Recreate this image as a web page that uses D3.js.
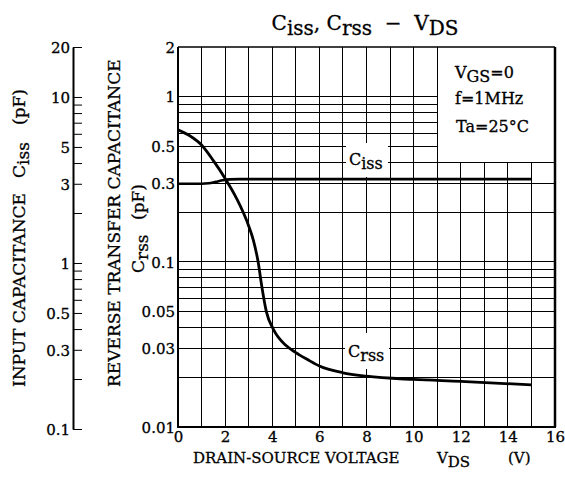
<!DOCTYPE html>
<html><head><meta charset="utf-8">
<script src="https://cdn.jsdelivr.net/npm/d3@7"></script>
<style>
html,body{margin:0;padding:0;background:#fff;}
svg{display:block;}
text{font-family:"DejaVu Serif",serif;fill:#000;white-space:pre;stroke:#000;stroke-width:0.3px;}
</style></head><body>
<svg id="chart" width="565" height="494"></svg>
<script>
// ---- data ----
const vdsTicks = [0,2,4,6,8,10,12,14,16];
const vdsGrid = [1,2,3,4,5,6,7,8,9,10,11,12,13,14,15];
const crssTickLabels = [0.01,0.03,0.05,0.1,0.3,0.5,1,2];
const crssGrid = [0.02,0.03,0.04,0.05,0.06,0.07,0.08,0.09,0.1,0.2,0.3,0.4,0.5,0.6,0.7,0.8,0.9,1];
const cissTickLabels = [0.1,0.3,0.5,1,3,5,10,20];
const cissTicks = [0.1,0.2,0.3,0.4,0.5,0.6,0.7,0.8,0.9,1,2,3,4,5,6,7,8,9,10,20];
const cissV  = [0,0.5,1.0,1.3,1.6,1.9,2.2,2.6,3,4,6,8,10,12,15];
const cissPF = [3.0,3.0,3.0,3.02,3.08,3.15,3.19,3.2,3.2,3.2,3.2,3.2,3.2,3.2,3.2];
const crssV  = [0,0.5,1,1.5,2,2.5,3,3.2,3.4,3.55,3.75,4.05,4.6,5.0,5.5,6,7,8,10,12,15];
const crssPF = [0.63,0.58,0.51,0.41,0.32,0.24,0.165,0.135,0.1,0.072,0.05,0.039,0.031,0.0282,0.0256,0.0234,0.0213,0.0203,0.0194,0.0189,0.018];
const legendSplitV = 11, legendSplitC = 0.4;

// ---- scales ----
const svg = d3.select("#chart");
const x = d3.scaleLinear().domain([0,16]).range([178,555]);
const y = d3.scaleLog().domain([0.01,2]).range([427,47]);
const yC = d3.scaleLog().domain([0.1,20]).range([429,47]);
const X0 = x(0), X1 = x(16), Y0 = y(0.01), Y1 = y(2);

// ---- grid ----
const grid = svg.append("g").attr("stroke","#000").attr("stroke-width",1).attr("shape-rendering","crispEdges");
grid.selectAll("line.v").data(vdsGrid).join("line").attr("class","v")
  .attr("x1",d=>x(d)).attr("x2",d=>x(d))
  .attr("y1",Y0).attr("y2",d=> d>legendSplitV ? y(legendSplitC) : Y1);
grid.selectAll("line.h").data(crssGrid).join("line").attr("class","h")
  .attr("y1",d=>y(d)).attr("y2",d=>y(d))
  .attr("x1",X0).attr("x2",d=> d>legendSplitC ? x(legendSplitV) : X1);

// ---- label backgrounds ----
svg.append("rect").attr("x",346).attr("y",143).attr("width",42).attr("height",34).attr("fill","#fff");
svg.append("rect").attr("x",345).attr("y",333).attr("width",44).attr("height",36).attr("fill","#fff");

// ---- frame ----
svg.append("line").attr("x1",X0).attr("x2",X1).attr("y1",Y1).attr("y2",Y1).attr("stroke","#000").attr("stroke-width",1.5);
svg.append("line").attr("x1",X0).attr("x2",X0).attr("y1",Y1).attr("y2",Y0).attr("stroke","#000").attr("stroke-width",2);
svg.append("line").attr("x1",X0-1).attr("x2",X1+1).attr("y1",Y0).attr("y2",Y0).attr("stroke","#000").attr("stroke-width",2);
svg.append("line").attr("x1",X1).attr("x2",X1).attr("y1",Y1).attr("y2",Y0).attr("stroke","#000").attr("stroke-width",2.5);

// ---- axes labels ----
const yAx = svg.append("g").attr("transform",`translate(${X0-1},0)`)
  .call(d3.axisLeft(y).tickValues(crssTickLabels).tickFormat(d=>String(d)).tickSize(0).tickPadding(2));
yAx.select(".domain").remove();
yAx.selectAll("text").attr("font-size",15).attr("font-family","DejaVu Serif").attr("dy","0.35em");

const xAx = svg.append("g").attr("transform",`translate(0,${Y0})`)
  .call(d3.axisBottom(x).tickValues(vdsTicks).tickFormat(d=>String(d)).tickSize(0).tickPadding(4));
xAx.select(".domain").remove();
xAx.selectAll("text").attr("font-size",15).attr("font-family","DejaVu Serif");

// Ciss axis
const cAx = svg.append("g").attr("transform","translate(73,0)")
  .call(d3.axisRight(yC).tickValues(cissTicks).tickFormat("").tickSize(9).tickSizeOuter(0));
cAx.selectAll("line").attr("stroke","#000").attr("stroke-width",1);
cAx.select(".domain").attr("stroke","#000").attr("stroke-width",2);
const cLab = svg.append("g").attr("transform","translate(72,0)")
  .call(d3.axisLeft(yC).tickValues(cissTickLabels).tickFormat(d=>String(d)).tickSize(0).tickPadding(2));
cLab.select(".domain").remove();
cLab.selectAll("text").attr("font-size",15).attr("font-family","DejaVu Serif").attr("dy","0.35em");

// ---- curves ----
const line = (sy)=> d3.line().x(d=>x(d[0])).y(d=>sy(d[1])).curve(d3.curveMonotoneX);
svg.append("path").datum(cissV.map((v,i)=>[v,cissPF[i]]))
  .attr("d",line(yC)).attr("fill","none").attr("stroke","#000").attr("stroke-width",2.6);
svg.append("path").datum(crssV.map((v,i)=>[v,crssPF[i]]))
  .attr("d",line(y)).attr("fill","none").attr("stroke","#000").attr("stroke-width",2.8);

// ---- texts ----
function sub(t, parts, dy){
  let cur = 0;
  parts.forEach(([s,isSub])=>{
    const want = isSub ? dy : 0;
    t.append("tspan").attr("dy", want-cur).text(s);
    cur = want;
  });
  return t;
}
// title
sub(svg.append("text").attr("x",365).attr("y",30).attr("text-anchor","middle").attr("font-size",20),
  [["C",0],["iss",1],[", C",0],["rss",1],["  −  V",0],["DS",1]], 5);

// legend
sub(svg.append("text").attr("x",455).attr("y",78).attr("font-size",16),[["V",0],["GS",1],["=0",0]],4);
svg.append("text").attr("x",455).attr("y",104).attr("font-size",16).text("f=1MHz");
svg.append("text").attr("x",456).attr("y",132).attr("font-size",16).text("Ta=25°C");

// curve labels
sub(svg.append("text").attr("x",349).attr("y",165).attr("font-size",16),[["C",0],["iss",1]],4);
sub(svg.append("text").attr("x",348).attr("y",357).attr("font-size",16),[["C",0],["rss",1]],4);

// x title
const xt = svg.append("text").attr("y",463).attr("font-size",15);
xt.append("tspan").attr("x",193).text("DRAIN-SOURCE VOLTAGE");
xt.append("tspan").attr("x",437).text("V");
xt.append("tspan").attr("dy",4).text("DS");
xt.append("tspan").attr("x",508).attr("dy",-4).text("(V)");

// left y title
const rl = svg.append("g").attr("transform","rotate(-90)");
rl.append("text").attr("x",-387).attr("y",25).attr("font-size",17).text("INPUT CAPACITANCE");
sub(rl.append("text").attr("x",-178).attr("y",25).attr("font-size",17),[["C",0],["iss",1]],4);
rl.append("text").attr("x",-125).attr("y",25).attr("font-size",17).text("(pF)");
// middle y title
rl.append("text").attr("x",-387).attr("y",120).attr("font-size",17).text("REVERSE TRANSFER CAPACITANCE");
sub(rl.append("text").attr("x",-273).attr("y",144).attr("font-size",17),[["C",0],["rss",1]],4);
rl.append("text").attr("x",-220).attr("y",144).attr("font-size",17).text("(pF)");
</script>
</body></html>
